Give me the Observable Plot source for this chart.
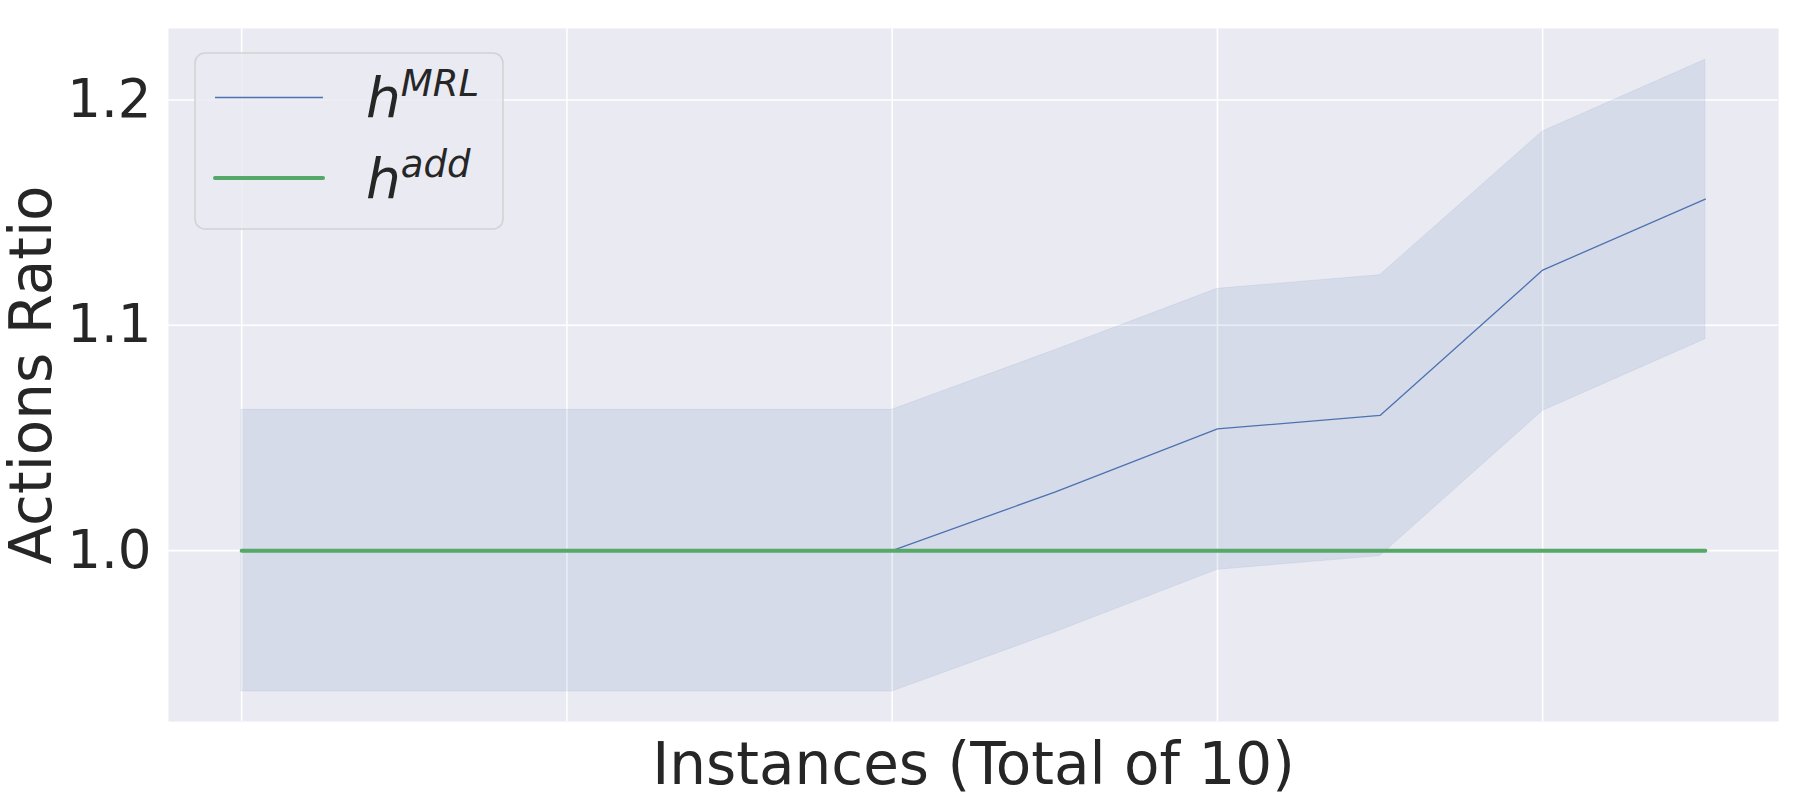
<!DOCTYPE html>
<html><head><meta charset="utf-8">
<script src="https://cdn.jsdelivr.net/npm/d3@7"></script>
<script src="https://cdn.jsdelivr.net/npm/@observablehq/plot@0.6"></script>
<style>
body{margin:0;background:#fff;}
</style>
</head><body><div id="chart"></div>
<script>
// Data
const instances = [0, 1, 2, 3, 4, 5, 6, 7, 8, 9];
const mrlMean  = [1.0, 1.0, 1.0, 1.0, 1.0, 1.026, 1.054, 1.060, 1.1245, 1.156];
const mrlLower = [0.9375, 0.9375, 0.9375, 0.9375, 0.9375, 0.9637, 0.9915, 0.9976, 1.062, 1.0938];
const mrlUpper = [1.0625, 1.0625, 1.0625, 1.0625, 1.0625, 1.0889, 1.1162, 1.1222, 1.186, 1.2178];
const addMean  = [1.0, 1.0, 1.0, 1.0, 1.0, 1.0, 1.0, 1.0, 1.0, 1.0];
const yTicks = [1.0, 1.1, 1.2];
const xGridTicks = [0, 2, 4, 6, 8];
const seriesLabels = [{base: "h", sup: "MRL"}, {base: "h", sup: "add"}];
const seriesColors = ["#4c72b0", "#55a868"];
const xLabel = "Instances (Total of 10)";
const yLabel = "Actions Ratio";

const rows = instances.map((x, i) => ({x, mean: mrlMean[i], lo: mrlLower[i], hi: mrlUpper[i], add: addMean[i]}));

const W = 1800, H = 800;
const mL = 168, mR = 22, mT = 28, mB = 79;

const plot = Plot.plot({
  width: W, height: H,
  marginLeft: mL, marginRight: mR, marginTop: mT, marginBottom: mB,
  style: {fontFamily: "DejaVu Sans", color: "#262626", background: "white", overflow: "visible"},
  x: {domain: [-0.45, 9.45]},
  y: {domain: [0.9242, 1.2317]},
  marks: [
    Plot.frame({fill: "#eaeaf2", stroke: null}),
    Plot.gridY(yTicks, {stroke: "white", strokeOpacity: 1, strokeWidth: 1.6}),
    Plot.gridX(xGridTicks, {stroke: "white", strokeOpacity: 1, strokeWidth: 1.6}),
    Plot.axisY(yTicks, {tickSize: 0, tickPadding: 17, tickFormat: d3.format(".1f"), fontSize: 53, label: null, fill: "#262626"}),
    Plot.axisX(xGridTicks, {tickSize: 0, tickFormat: () => "", label: null}),
    Plot.text([yLabel], {frameAnchor: "left", rotate: -90, dx: -136, fontSize: 58, fill: "#262626", textAnchor: "middle"}),
    Plot.text([xLabel], {frameAnchor: "bottom", dy: 62, fontSize: 58, fill: "#262626", textAnchor: "middle"}),
    Plot.areaY(rows, {x: "x", y1: "lo", y2: "hi", fill: seriesColors[0], fillOpacity: 0.12, stroke: seriesColors[0], strokeOpacity: 0.1, strokeWidth: 1}),
    Plot.lineY(rows, {x: "x", y: "mean", stroke: seriesColors[0], strokeWidth: 1.3}),
    Plot.lineY(rows, {x: "x", y: "add", stroke: seriesColors[1], strokeWidth: 4, strokeLinecap: "round"})
  ]
});

document.getElementById("chart").appendChild(plot);

// Legend (matplotlib-style, inside the axes, upper left)
const svg = d3.select(plot);
const lg = svg.append("g").attr("transform", `translate(${mL + 27},${mT + 25})`);
lg.append("rect").attr("width", 308).attr("height", 176).attr("rx", 10)
  .attr("fill", "#eaeaf2").attr("fill-opacity", 0.8)
  .attr("stroke", "#cccccc").attr("stroke-opacity", 0.8).attr("stroke-width", 1.5);
const rowY = [44.5, 125];
const lineW = [1.3, 4];
seriesLabels.forEach((s, i) => {
  lg.append("line").attr("x1", 20).attr("x2", 128).attr("y1", rowY[i]).attr("y2", rowY[i])
    .attr("stroke", seriesColors[i]).attr("stroke-width", lineW[i]).attr("stroke-linecap", i === 1 ? "round" : "butt");
  const t = lg.append("text").attr("x", 171).attr("y", rowY[i] + 19.5).attr("text-anchor", "start")
    .attr("font-family", "DejaVu Sans").attr("font-style", "italic").attr("font-size", 55).attr("fill", "#262626");
  t.append("tspan").text(s.base);
  t.append("tspan").attr("dy", -21).attr("font-size", 37).text(s.sup);
});
</script>
</body></html>
